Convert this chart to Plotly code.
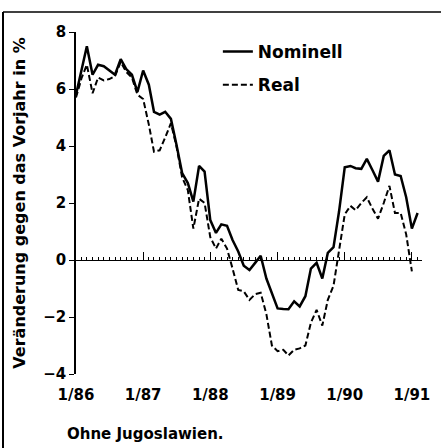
import plotly.graph_objects as go
import pandas as pd

# ---- data (monthly, year-over-year change in %) ----
months = pd.date_range("1986-01-01", periods=62, freq="MS")
nominell = [5.8, 6.7, 7.5, 6.5, 6.85, 6.8, 6.65, 6.5, 7.05, 6.7,
            6.5, 5.9, 6.65, 6.15, 5.2, 5.1, 5.2, 4.95, 4.05, 3.05,
            2.7, 2.05, 3.3, 3.1, 1.4, 0.95, 1.25, 1.2, 0.7, 0.3,
            -0.2, -0.35, -0.1, 0.15, -0.65, -1.2, -1.7, -1.72, -1.73, -1.45,
            -1.63, -1.27, -0.3, -0.1, -0.65, 0.25, 0.45, 1.7, 3.25, 3.3,
            3.22, 3.2, 3.55, 3.15, 2.75, 3.65, 3.85, 3.0, 2.95, 2.2,
            1.1, 1.65]
real = [5.7, 6.4, 6.85, 5.85, 6.4, 6.3, 6.35, 6.45, 6.95, 6.6,
        6.4, 5.8, 5.65, 4.75, 3.8, 3.85, 4.3, 4.8, 4.0, 2.9,
        2.45, 1.1, 2.15, 2.0, 0.8, 0.4, 0.75, 0.4, -0.3, -1.05,
        -1.1, -1.4, -1.2, -1.15, -1.9, -3.0, -3.2, -3.15, -3.35, -3.15,
        -3.1, -3.0, -2.2, -1.75, -2.3, -1.4, -0.9, 0.35, 1.6, 1.9,
        1.75, 2.0, 2.2, 1.8, 1.45, 2.0, 2.6, 1.65, 1.65, 0.9,
        -0.4, None]
year_ticks = ["1986-01-01", "1987-01-01", "1988-01-01", "1989-01-01", "1990-01-01", "1991-01-01"]
year_labels = ["1/86", "1/87", "1/88", "1/89", "1/90", "1/91"]
y_ticks = [-4, -2, 0, 2, 4, 6, 8]

FONT = "DejaVu Sans"
xrange_ = ["1986-01-01", "1991-02-25"]

fig = go.Figure()
fig.add_trace(go.Scatter(x=months, y=nominell, mode="lines", name="Nominell",
                         line=dict(color="black", width=2.5), legendgroup="a"))
fig.add_trace(go.Scatter(x=months, y=real, mode="lines", name="Real", xaxis="x2",
                         line=dict(color="black", width=2, dash="6px,3px"), legendgroup="b"))

fig.update_layout(
    width=441, height=448,
    margin=dict(l=76, r=19, t=32, b=74, autoexpand=False),
    paper_bgcolor="white", plot_bgcolor="white",
    font=dict(family=FONT, color="black", size=15, weight="bold"),
    xaxis=dict(range=xrange_, tickvals=year_ticks, ticktext=year_labels,
               showline=False, ticks="", showgrid=False, zeroline=False,
               automargin=False, ticklabelstandoff=10,
               tickfont=dict(size=15, family=FONT, weight="bold")),
    xaxis2=dict(range=xrange_, overlaying="x", anchor="free", position=1/3,
                side="bottom", showline=True, linecolor="black", linewidth=1.2,
                ticks="inside", tickvals=year_ticks, ticklen=8, tickwidth=1.2,
                tickcolor="black", showticklabels=False, showgrid=False, zeroline=False,
                automargin=False,
                minor=dict(dtick="M1", tick0="1986-01-01", ticks="inside", ticklen=3,
                           tickwidth=1, tickcolor="black", showgrid=False)),
    yaxis=dict(range=[-4, 8], tickvals=y_ticks, showline=True, linecolor="black",
               linewidth=1.5, ticks="outside", ticklen=5, tickcolor="black",
               showgrid=False, zeroline=False, automargin=False,
               tickfont=dict(size=15, family=FONT, weight="bold"),
               title=dict(text="Veränderung gegen das Vorjahr in %", standoff=14,
                          font=dict(size=16, family=FONT, weight="bold"))),
    legend=dict(x=0.41, y=0.994, xanchor="left", yanchor="top", bgcolor="rgba(0,0,0,0)",
                font=dict(size=17, family=FONT, weight="bold"), itemwidth=30,
                traceorder="grouped", tracegroupgap=8),
    showlegend=True,
)

fig.add_annotation(text="Ohne Jugoslawien.", xref="paper", yref="paper",
                   x=(65 - 76) / 346, y=(374 - 434) / 342, xanchor="left", yanchor="middle",
                   showarrow=False, font=dict(size=15, family=FONT, weight="bold"))

# page frame (left and top border)
fig.add_shape(type="line", xref="paper", yref="paper",
              x0=(3 - 76) / 346, x1=(3 - 76) / 346, y0=(374 - 448) / 342, y1=(374 - 12) / 342,
              line=dict(color="black", width=2))
fig.add_shape(type="line", xref="paper", yref="paper",
              x0=(3 - 76) / 346, x1=(441 - 76) / 346, y0=(374 - 12) / 342, y1=(374 - 12) / 342,
              line=dict(color="black", width=1.5))

fig.write_html("out.html", config={"displayModeBar": False},
               post_script="document.body.style.margin='0';")
